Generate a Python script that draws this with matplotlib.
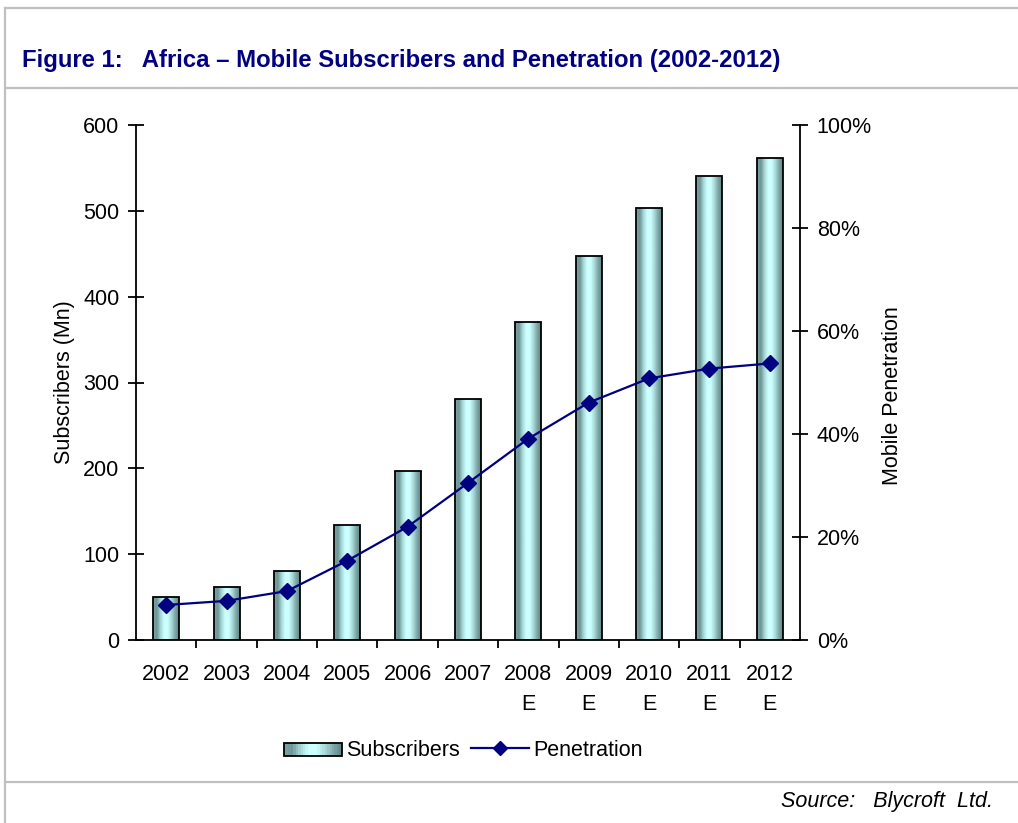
import numpy as np
import matplotlib.pyplot as plt
from matplotlib.colors import LinearSegmentedColormap
from matplotlib.legend_handler import HandlerBase
from matplotlib.patches import Rectangle
from matplotlib.lines import Line2D

"""
Africa mobile subscribers (bars, left axis) and mobile penetration (line, right axis).
"""

plt.rcParams['font.family'] = ['Liberation Sans', 'DejaVu Sans']

years = ['2002', '2003', '2004', '2005', '2006', '2007',
         '2008\nE', '2009\nE', '2010\nE', '2011\nE', '2012\nE']
subscribers = [50, 62, 80, 134, 197, 281, 370, 447, 503, 540, 561]
penetration = [6.8, 7.6, 9.5, 15.4, 22.0, 30.5, 39.1, 46.1, 50.8, 52.7, 53.7]

navy = '#000080'
frame_grey = '#C0C0C0'
fs = 15.5

# cylinder-like shading across each bar
bar_cmap = LinearSegmentedColormap.from_list(
    'cyl', ['#7FA3A3', '#6E9696', '#A6D6D6', '#CCFFFF', '#CCFFFF', '#A8D8D8', '#7FA8A8', '#5F8585'])
shade = np.linspace(0, 1, 64).reshape(1, -1)

fig = plt.figure(figsize=(10.18, 8.23), dpi=100)

# page frame lines
for y in [1 - 8 / 823, 1 - 88 / 823, 1 - 782 / 823]:
    fig.add_artist(Line2D([5 / 1018, 1], [y, y], color=frame_grey, lw=1.6))
fig.add_artist(Line2D([5 / 1018, 5 / 1018], [0, 1 - 8 / 823], color=frame_grey, lw=1.6))

fig.text(22 / 1018, 1 - 60 / 823, 'Figure 1:   Africa \u2013 Mobile Subscribers and Penetration (2002-2012)',
         color=navy, fontsize=17.2, fontweight='bold', va='center', ha='left')
fig.text(993 / 1018, 1 - 801 / 823, 'Source:   Blycroft  Ltd.', fontsize=fs, style='italic',
         ha='right', va='center')

ax = fig.add_axes([136 / 1018, 1 - 640 / 823, 664 / 1018, 515 / 823])
x = np.arange(len(years))
bar_width = 0.43

bars = ax.bar(x, subscribers, width=bar_width, facecolor='none', edgecolor='black', lw=1.3, zorder=3)
for b in bars:
    im = ax.imshow(shade, cmap=bar_cmap, aspect='auto', zorder=2,
                   extent=[b.get_x(), b.get_x() + b.get_width(), 0, b.get_height()])
    im.set_clip_path(b)

ax.set_xlim(-0.5, len(years) - 0.5)
ax.set_ylim(0, 600)
ax.set_yticks(range(0, 601, 100))
ax.set_xticks(x)
ax.set_xticklabels(years, fontsize=fs, linespacing=1.6)
ax.set_xticks(np.arange(0.5, len(years) - 1, 1), minor=True)
ax.tick_params(axis='x', which='major', length=0, pad=17)
ax.tick_params(axis='x', which='minor', length=6, width=1.3, direction='out')
ax.tick_params(axis='y', labelsize=fs, direction='inout', length=12, width=1.3, pad=6)
ax.spines['top'].set_visible(False)
ax.spines['right'].set_visible(False)
for s in ['left', 'bottom']:
    ax.spines[s].set_linewidth(1.3)
ax.set_ylabel('Subscribers (Mn)', fontsize=fs, labelpad=6)

ax2 = ax.twinx()
ax2.plot(x, penetration, color=navy, lw=1.6, marker='D', markersize=8.5, zorder=4)
ax2.set_ylim(0, 100)
ax2.set_yticks(range(0, 101, 20))
ax2.set_yticklabels([f'{v}%' for v in range(0, 101, 20)])
ax2.tick_params(axis='y', labelsize=fs, direction='inout', length=12, width=1.3, pad=6)
ax2.spines['top'].set_visible(False)
ax2.spines['left'].set_visible(False)
ax2.spines['bottom'].set_visible(False)
ax2.spines['right'].set_linewidth(1.3)
ax2.set_ylabel('Mobile Penetration', fontsize=fs, labelpad=7)
ax2.yaxis.label.set_y(0.475)


class GradientBarHandler(HandlerBase):
    def create_artists(self, legend, orig_handle, xdescent, ydescent, width, height, fontsize, trans):
        n = 24
        artists = []
        for i in range(n):
            artists.append(Rectangle((xdescent + width * i / n, ydescent), width / n, height,
                                     facecolor=bar_cmap((i + 0.5) / n), edgecolor='none', transform=trans))
        artists.append(Rectangle((xdescent, ydescent), width, height, facecolor='none',
                                 edgecolor='black', lw=1.3, transform=trans))
        return artists


bar_handle = Rectangle((0, 0), 1, 1)
line_handle = Line2D([], [], color=navy, lw=1.6, marker='D', markersize=7)
fig.legend([bar_handle, line_handle], ['Subscribers', 'Penetration'],
           handler_map={Rectangle: GradientBarHandler()},
           loc='center', bbox_to_anchor=(463 / 1018, 1 - 750 / 823), ncol=2, frameon=False,
           fontsize=fs, handlelength=2.7, handleheight=0.6, handletextpad=0.2, columnspacing=0.5)

fig.savefig('out.png', dpi=100)
